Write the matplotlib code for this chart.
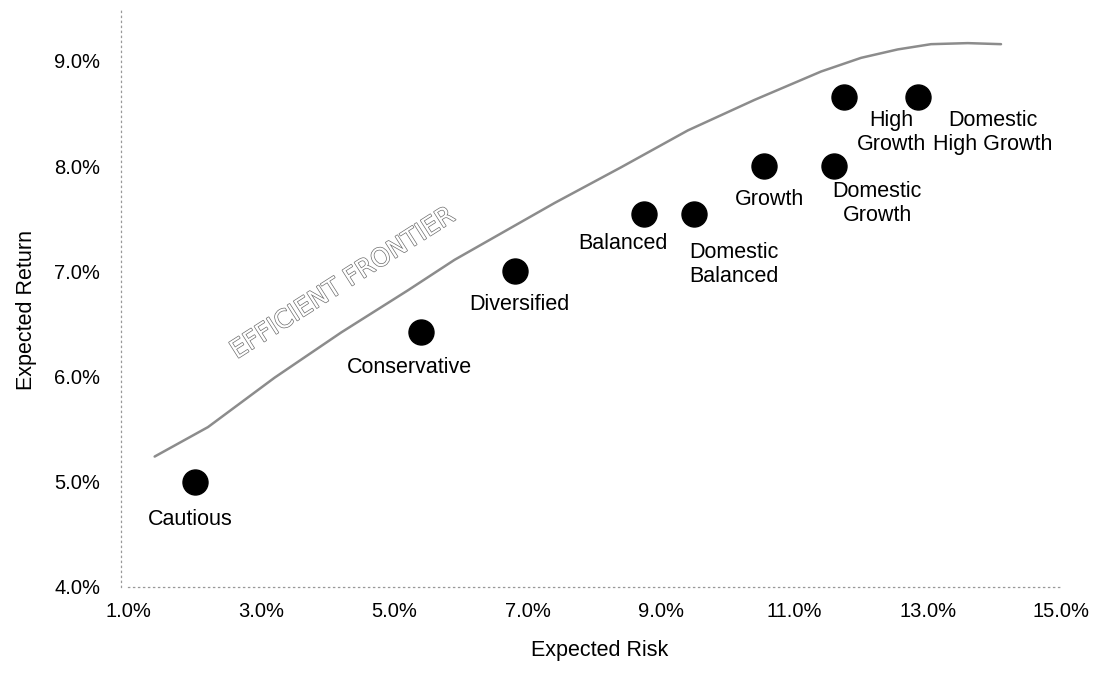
import matplotlib
matplotlib.use("Agg")
import matplotlib.pyplot as plt
import matplotlib.patheffects as pe
from matplotlib.ticker import FuncFormatter

# ---- data ----
portfolios = ["Cautious", "Conservative", "Diversified", "Balanced",
              "Domestic\nBalanced", "Growth", "Domestic\nGrowth",
              "High\nGrowth", "Domestic\nHigh Growth"]
risk = [2.0, 5.4, 6.8, 8.75, 9.5, 10.55, 11.6, 11.75, 12.85]
ret = [5.0, 6.42, 7.0, 7.55, 7.55, 8.0, 8.0, 8.66, 8.66]

frontier_risk = [1.4, 2.2, 3.2, 4.2, 5.2, 5.9, 7.4, 8.4, 9.4, 10.4, 11.4,
                 12.0, 12.55, 13.05, 13.6, 14.1]
frontier_ret = [5.24, 5.52, 5.99, 6.42, 6.82, 7.11, 7.65, 7.99, 8.34, 8.63,
                8.90, 9.03, 9.11, 9.16, 9.17, 9.16]

x_ticks = [1, 3, 5, 7, 9, 11, 13, 15]
y_ticks = [4, 5, 6, 7, 8, 9]

# label offsets (pixels) relative to each point
label_dx = [-4, -12, 5, -22, 39, 5, 43, 47, 75]
label_dy = [-38, -35, -33, -30, -51, -33, -37, -36, -36]

plt.rcParams['font.family'] = ['Liberation Sans', 'DejaVu Sans']

fig = plt.figure(figsize=(11.07, 6.79), dpi=100)
ax = fig.add_axes([128/1107, 1-587/679, 933/1107, (587-8.4)/679])
ax.set_xlim(1, 15)
ax.set_ylim(4, 9.5)

ax.plot(frontier_risk, frontier_ret, color="#8c8c8c", lw=1.8,
        solid_capstyle="round", zorder=2)
ax.plot(risk, ret, linestyle="none", marker="o", markersize=18,
        color="black", zorder=3)

for name, x, y, dx, dy in zip(portfolios, risk, ret, label_dx, label_dy):
    ax.annotate(name, (x, y), xytext=(dx, dy), textcoords="offset pixels",
                ha="center", va="center", fontsize=15.5, color="black",
                linespacing=1.2)

txt = ax.text(4.23, 6.89, "EFFICIENT FRONTIER", rotation=32.5,
              rotation_mode="anchor", ha="center", va="center",
              fontsize=18, color="white", family="DejaVu Sans")
txt.set_path_effects([pe.Stroke(linewidth=1.0, foreground="#6e6e6e"),
                      pe.Normal()])

ax.set_xticks(x_ticks)
ax.set_yticks(y_ticks)
fmt = FuncFormatter(lambda v, p: f"{v:.1f}%")
ax.xaxis.set_major_formatter(fmt)
ax.yaxis.set_major_formatter(fmt)
ax.tick_params(axis="both", length=0, labelsize=14.5)
ax.tick_params(axis="x", pad=11)
ax.tick_params(axis="y", pad=15)

for s in ["top", "right"]:
    ax.spines[s].set_visible(False)
for s in ["left", "bottom"]:
    ax.spines[s].set_color("#999999")
    ax.spines[s].set_linewidth(0.9)
    ax.spines[s].set_linestyle((0, (1, 3)))
ax.spines["left"].set_position(("outward", 5))

ax.set_xlabel("Expected Risk", fontsize=15.5)
ax.set_ylabel("Expected Return", fontsize=15.5)
ax.xaxis.set_label_coords(0.506, -0.092)
ax.yaxis.set_label_coords(-0.098, 0.479)

fig.savefig("out.png", dpi=100, facecolor="white")
